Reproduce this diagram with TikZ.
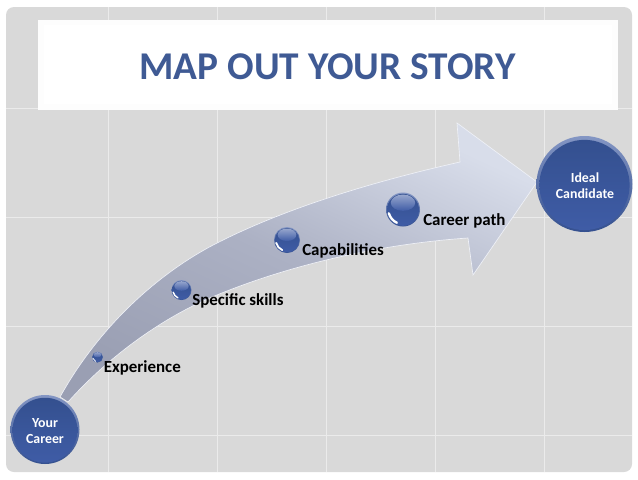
\documentclass[tikz,border=0pt]{standalone}
\usepackage{fontspec}
\setmainfont{Carlito}
\definecolor{panel}{HTML}{D9D9D9}
\definecolor{gridc}{HTML}{EBEBEB}
\definecolor{titleblue}{HTML}{3F5A94}
\definecolor{ballmid}{HTML}{3F5CA6}
\definecolor{balldark}{HTML}{34508F}
\definecolor{balllight}{HTML}{8496C4}
\definecolor{arrowlight}{HTML}{D8DDEA}
\definecolor{arrowmid}{HTML}{ACB1C4}
\definecolor{arrowdark}{HTML}{9A9FB3}
\tikzset{
  x=0.75pt,y=-0.75pt,
  ball/.style={circle,inner sep=0pt,draw=none,align=center,text=white,font=\bfseries\fontsize{10.4}{12.2}\selectfont},
  steplabel/.style={inner sep=0pt,anchor=base west,text=black,font=\bfseries\fontsize{12.7}{14}\selectfont},
  gridline/.style={draw=gridc,line width=0.5pt}
}
\newcommand{\glossball}[3]{% x, y, radius
  \shade[top color=balllight,bottom color=balldark] (#1,#2) circle[radius=#3];
  \shade[top color=balldark,bottom color=ballmid] (#1,#2+.02*#3) circle[radius=.94*#3];
}
\newcommand{\smallball}[3]{% x, y, radius
  \glossball{#1}{#2}{#3}
  \shade[top color=balllight!85!white,bottom color=ballmid] (#1,#2-.4*#3) ellipse[x radius=.72*#3,y radius=.48*#3];
  \draw[white,line width=.14*#3*0.75pt,line cap=round] (#1,#2)++(165:.86*#3) arc[start angle=165,end angle=115,radius=.86*#3];
}
\begin{document}
\begin{tikzpicture}
\useasboundingbox (0,0) rectangle (638,479);
\fill[white] (0,0) rectangle (638,479);
\fill[panel,rounded corners=6pt] (6,7) rectangle (632,472);
\foreach \gx in {108,217,326,435,544} \draw[gridline] (\gx,7) -- (\gx,472);
\foreach \gy in {108,217,326,435} \draw[gridline] (6,\gy) -- (632,\gy);
% title
\fill[white!94!panel] (38,20) rectangle (618,110);
\fill[white] (44,25) rectangle (612,104);
\node[inner sep=0pt,anchor=base,text=titleblue,font=\bfseries\fontsize{29.5}{32}\selectfont] (title) at (327.5,79) {MAP OUT YOUR STORY};
% arrow
\shade[top color=arrowlight,bottom color=arrowdark,middle color=arrowmid,shading angle=-25,draw=white!60!arrowlight,line width=0.5pt]
  (60,397) .. controls (100,325) and (160,272) .. (217,243)
  .. controls (290,206) and (380,180) .. (460,162)
  -- (457,123) -- (537,182) -- (473,275) -- (468,238)
  .. controls (380,244) and (290,265) .. (217,295)
  .. controls (165,316) and (110,355) .. (68,402)
  -- cycle;
% circles
\glossball{45}{429.5}{34.5}
\node[ball] (career) at (45,431) {Your\\Career};
\glossball{584.5}{184}{48}
\node[ball] (ideal) at (585,186) {Ideal\\Candidate};
\smallball{97.5}{357}{5.5}
\smallball{181.5}{290}{10}
\smallball{287}{240}{13}
\smallball{403}{209.5}{17}
\node[steplabel] (exp) at (103.5,372) {Experience};
\node[steplabel] (skills) at (192,305) {Specific skills};
\node[steplabel] (cap) at (302,255) {Capabilities};
\node[steplabel] (path) at (423,225) {Career path};
\end{tikzpicture}
\end{document}
